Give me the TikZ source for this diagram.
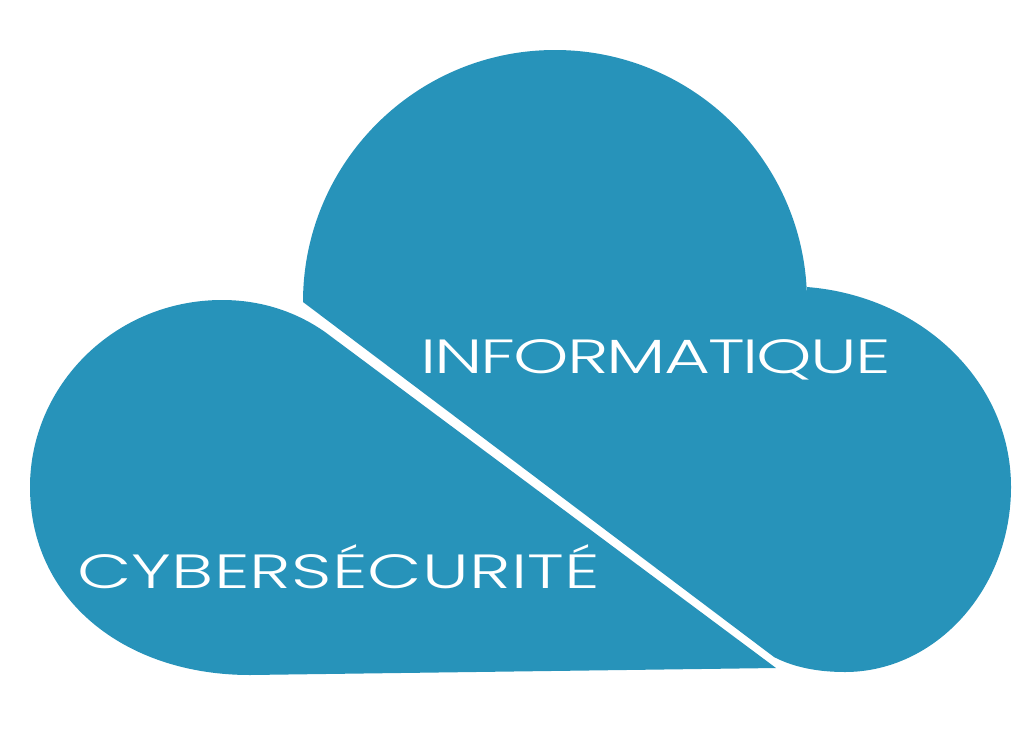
\documentclass[tikz,border=0pt]{standalone}
\usepackage{fontspec}
\setmainfont{Poppins}[UprightFont=*-Light,FakeStretch=1.47]
\definecolor{cloudblue}{RGB}{39,147,186}
\usepackage{tikz}

\begin{document}
\begin{tikzpicture}[x=1pt,y=-1pt]
    \useasboundingbox (0,0) rectangle (1024,728);
    \tikzset{cloudlabel/.style={anchor=base,inner sep=0pt,text=white,font=\fontsize{48}{48}\selectfont}}

    % Upper part
    \fill[cloudblue] (303,302) arc[start angle=180,end angle=360,radius=252]
        -- (807,287) .. controls (920,296) and (1011,380) .. (1011,487)
        .. controls (1011,590) and (935,672) .. (845,672)
        .. controls (820,672) and (795,668) .. (774,657) -- cycle;

    % Lower part
    \fill[cloudblue] (222,300) .. controls (115,300) and (30,385) .. (30,487)
        .. controls (30,600) and (125,675) .. (250,675)
        -- (776,668) -- (325,332)
        .. controls (295,311) and (260,300) .. (222,300) -- cycle;

    % Labels
    \node[cloudlabel] (info) at (655.5,373) {\addfontfeature{LetterSpace=-4.2}INFORMATIQUE};
    \node[cloudlabel] (cyber) at (338.5,588) {\addfontfeature{LetterSpace=0.5}CYBERSÉCURITÉ};
\end{tikzpicture}
\end{document}
